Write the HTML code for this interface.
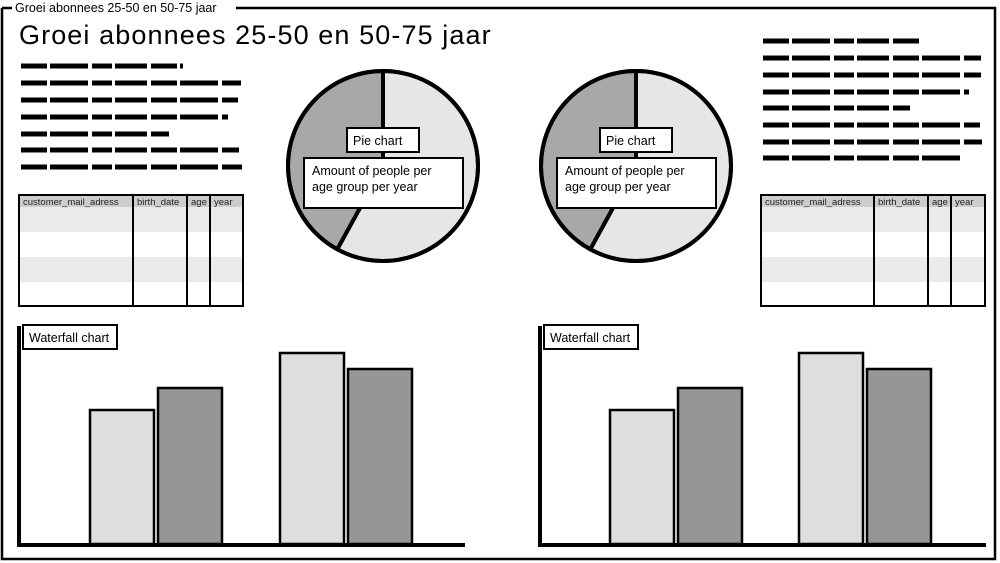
<!DOCTYPE html>
<html><head><meta charset="utf-8">
<style>
html,body{margin:0;padding:0;background:#fff;}
svg{display:block;font-family:"Liberation Sans",sans-serif;}
</style></head>
<body>
<svg id="root" width="1000" height="563" viewBox="0 0 1000 563">
  <g>
    <path d="M2 8 V559 H995 V8 H236 M12 8 H2" fill="none" stroke="#000" stroke-width="2.5"/>
    <text x="15" y="12" font-size="12.5" fill="#000">Groei abonnees 25-50 en 50-75 jaar</text>
  </g>
  <text x="19" y="44" font-size="27" letter-spacing="1.1" fill="#000">Groei abonnees 25-50 en 50-75 jaar</text>
  <g id="scribbles"></g>
  <g id="tables"></g>
  <g id="pies"></g>
  <g id="charts"></g>
</svg>
<script>
const NS="http://www.w3.org/2000/svg";
function mk(tag,attrs,parent){const e=document.createElementNS(NS,tag);for(const k in attrs)e.setAttribute(k,attrs[k]);parent.appendChild(e);return e;}

// Chart data
const barCategories=["group-25-50","group-50-75"];
const seriesA=[134,191];   // light bars
const seriesB=[156,175];   // dark bars
const pieValues=[58,42];   // light, dark share (%)

// scribble text
const sc=document.getElementById('scribbles');
function scribble(x,ys,ws){ys.forEach((y,i)=>{const l=mk('line',{x1:x,y1:y,x2:x+ws[i],y2:y,stroke:'#000','stroke-width':5,'stroke-dasharray':'26 3 38 4 20 3 32 4','stroke-linecap':'butt'},sc);

});}
scribble(21,[66,83,100,117,134,150,167],[162,220,217,207,148,218,222]);
scribble(763,[41,58,75,92,108,125,142,158],[158,218,218,206,147,217,219,198]);

// tables
const tg=document.getElementById('tables');
function table(x,cols){const g=mk('g',{},tg);


mk('rect',{x:x,y:195,width:224,height:12,fill:'#ccc'},g);
mk('rect',{x:x,y:207,width:224,height:25,fill:'#ebebeb'},g);
mk('rect',{x:x,y:257,width:224,height:25,fill:'#ebebeb'},g);
mk('rect',{x:x,y:195,width:224,height:111,fill:'none',stroke:'#000','stroke-width':2},g);
const names=['customer_mail_adress','birth_date','age','year'];
const edges=[x].concat(cols);
cols.forEach(c=>mk('line',{x1:c,y1:195,x2:c,y2:306,stroke:'#000','stroke-width':2},g));
names.forEach((n,i)=>{const t=mk('text',{x:edges[i]+4,y:205,'font-size':9.5,fill:'#222'},g);t.textContent=n;

});}
table(19,[133,187,210]);
table(761,[874,928,951]);

// pies
const pg=document.getElementById('pies');
function pie(cx,cy,r,lx){const g=mk('g',{},pg);


const tot=pieValues.reduce((a,b)=>a+b,0);let a0=0;const fills=['#e6e6e6','#a8a8a8'];
pieValues.forEach((v,i)=>{const a1=a0+v/tot*2*Math.PI;
const p=(a)=>[cx+r*Math.sin(a),cy-r*Math.cos(a)];const s=p(a0),e=p(a1);
const path=mk('path',{d:`M${cx} ${cy} L${s[0]} ${s[1]} A${r} ${r} 0 ${a1-a0>Math.PI?1:0} 1 ${e[0]} ${e[1]} Z`,fill:fills[i],stroke:'#000','stroke-width':4,'stroke-linejoin':'round'},g);


a0=a1;});
mk('circle',{cx:cx,cy:cy,r:r,fill:'none',stroke:'#000','stroke-width':4},g);
const b1=mk('rect',{x:lx,y:128,width:72,height:24,fill:'#fff',stroke:'#000','stroke-width':2},g);


const t1=mk('text',{x:lx+6,y:145,'font-size':12.5},g);t1.textContent='Pie chart';


const b2=mk('rect',{x:lx-43,y:158,width:159,height:50,fill:'#fff',stroke:'#000','stroke-width':2},g);


const t2=mk('text',{x:lx-35,y:175,'font-size':12.5},g);t2.textContent='Amount of people per';


const t3=mk('text',{x:lx-35,y:191,'font-size':12.5},g);t3.textContent='age group per year';

}
pie(383,166,95,347);
pie(636,166,95,600);

// bar charts
const cg=document.getElementById('charts');
function chart(ox,groupX){const g=mk('g',{},cg);


const base=544;const y=(v)=>base-v;const bw=64;
barCategories.forEach((c,i)=>{const gx=ox+groupX[i];
[[seriesA[i],'#dedede',0],[seriesB[i],'#969696',68]].forEach(([v,f,off])=>{const r=mk('rect',{x:gx+off,y:y(v),width:bw,height:v,fill:f,stroke:'#000','stroke-width':2.5},g);

});});
const ax=mk('path',{d:`M${ox} 326 V545 H${ox+446}`,fill:'none',stroke:'#000','stroke-width':4},g);


const lb=mk('rect',{x:ox+4,y:325,width:94,height:24,fill:'#fff',stroke:'#000','stroke-width':2},g);


const lt=mk('text',{x:ox+10,y:342,'font-size':12.5},g);lt.textContent='Waterfall chart';

}
chart(19,[71,261]);
chart(540,[70,259]);
</script>
</body></html>
